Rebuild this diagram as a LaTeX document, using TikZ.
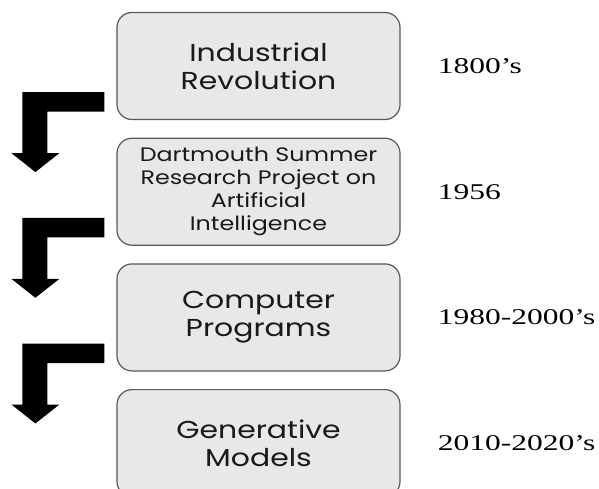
\documentclass[tikz,border=0pt]{standalone}
\usepackage{fontspec}
\newfontfamily\boxfont[FakeStretch=1.22]{Poppins}
\newfontfamily\datefont[FakeStretch=1.4]{Liberation Serif}
\usetikzlibrary{positioning}

\begin{document}
\begin{tikzpicture}[
    x=1pt, y=1pt,
    node distance=17.5pt,
    box/.style={rectangle, draw=black!65, line width=1.2pt, rounded corners=15pt, fill=black!9, minimum width=283pt, minimum height=107pt, align=center, text=black!90, font=\boxfont\fontsize{24.5}{28}\selectfont},
    year/.style={inner sep=0pt, font=\datefont\fontsize{22.5}{25}\selectfont}
]
\useasboundingbox (0,0) rectangle (599,488);

% Timeline boxes (top to bottom)
\node[box] (indus) at (258.5,422) {Industrial\\Revolution};
\node[box, below=of indus, font=\boxfont\fontsize{19.5}{23}\selectfont] (dart) {Dartmouth Summer\\Research Project on\\Artificial\\Intelligence};
\node[box, below=of dart] (comp) {Computer\\Programs};
\node[box, below=of comp] (gen) {Generative\\Models};

% Years on the right
\node[year, right=37pt of indus] (y1800) {1800’s};
\node[year, right=37pt of dart] (y1956) {1956};
\node[year, right=37pt of comp] (y1980) {1980-2000’s};
\node[year, right=37pt of gen] (y2010) {2010-2020’s};

% Elbow arrows on the left
\foreach \b in {indus, dart, comp}
    \fill[shift={(\b.south west)}] (-12,28) -- (-94,28) -- (-94,-33) -- (-105,-33) -- (-81,-52) -- (-57,-33) -- (-69,-33) -- (-69,8.5) -- (-12,8.5) -- cycle;

\end{tikzpicture}
\end{document}
